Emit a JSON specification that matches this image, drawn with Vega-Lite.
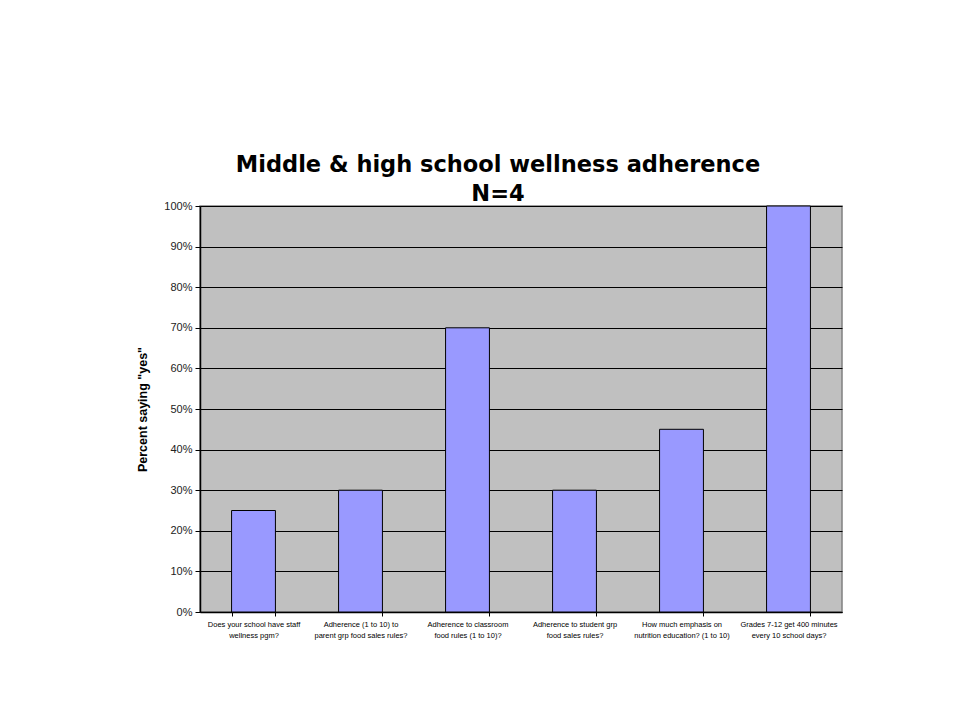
{
  "$schema": "https://vega.github.io/schema/vega-lite/v6.json",
  "width": 642,
  "height": 406,
  "autosize": {"type": "none"},
  "padding": {"left": 200, "top": 206, "right": 119, "bottom": 109},
  "background": "white",
  "title": {
    "text": ["Middle & high school wellness adherence", "N=4"],
    "font": "DejaVu Sans",
    "fontSize": 22.5,
    "fontWeight": "bold",
    "color": "black",
    "lineHeight": 29,
    "anchor": "middle",
    "dx": -23,
    "offset": -5
  },
  "data": {
    "values": [
      {"q": "Does your school have staff|wellness pgm?", "pct": 0.25, "order": 1},
      {"q": "Adherence (1 to 10) to|parent grp food sales rules?", "pct": 0.30, "order": 2},
      {"q": "Adherence to classroom|food rules (1 to 10)?", "pct": 0.70, "order": 3},
      {"q": "Adherence to student grp|food sales rules?", "pct": 0.30, "order": 4},
      {"q": "How much emphasis on|nutrition education? (1 to 10)", "pct": 0.45, "order": 5},
      {"q": "Grades 7-12 get 400 minutes|every 10 school days?", "pct": 1.0, "order": 6}
    ]
  },
  "config": {
    "view": {"fill": "#C0C0C0", "stroke": "#808080", "strokeWidth": 1.5},
    "font": "Liberation Sans"
  },
  "mark": {"type": "bar", "fill": "#9999FF", "stroke": "black", "strokeWidth": 1},
  "encoding": {
    "x": {
      "field": "q",
      "type": "nominal",
      "sort": {"field": "order"},
      "scale": {"paddingInner": 0.59, "paddingOuter": 0.295},
      "axis": {
        "title": null,
        "labelAngle": 0,
        "labelExpr": "split(datum.label, '|')",
        "labelFontSize": 7.5,
        "labelColor": "black",
        "labelLineHeight": 11,
        "labelPadding": 4,
        "tickBand": "extent",
        "tickColor": "black",
        "tickSize": 4,
        "domainColor": "black",
        "domainWidth": 1.5,
        "labelLimit": 200
      }
    },
    "y": {
      "field": "pct",
      "type": "quantitative",
      "scale": {"domain": [0, 1]},
      "axis": {
        "title": "Percent saying \"yes\"",
        "titleFontSize": 12.5,
        "titleFontWeight": "bold",
        "titleColor": "black",
        "titlePadding": 14,
        "format": ".0%",
        "values": [0, 0.1, 0.2, 0.3, 0.4, 0.5, 0.6, 0.7, 0.8, 0.9, 1.0],
        "labelFontSize": 11,
        "labelColor": "#222",
        "labelPadding": 3,
        "tickColor": "black",
        "tickSize": 5,
        "domainColor": "black",
        "domainWidth": 1.5,
        "grid": true,
        "gridColor": "black",
        "gridWidth": 1,
        "gridOpacity": 1
      }
    }
  }
}
